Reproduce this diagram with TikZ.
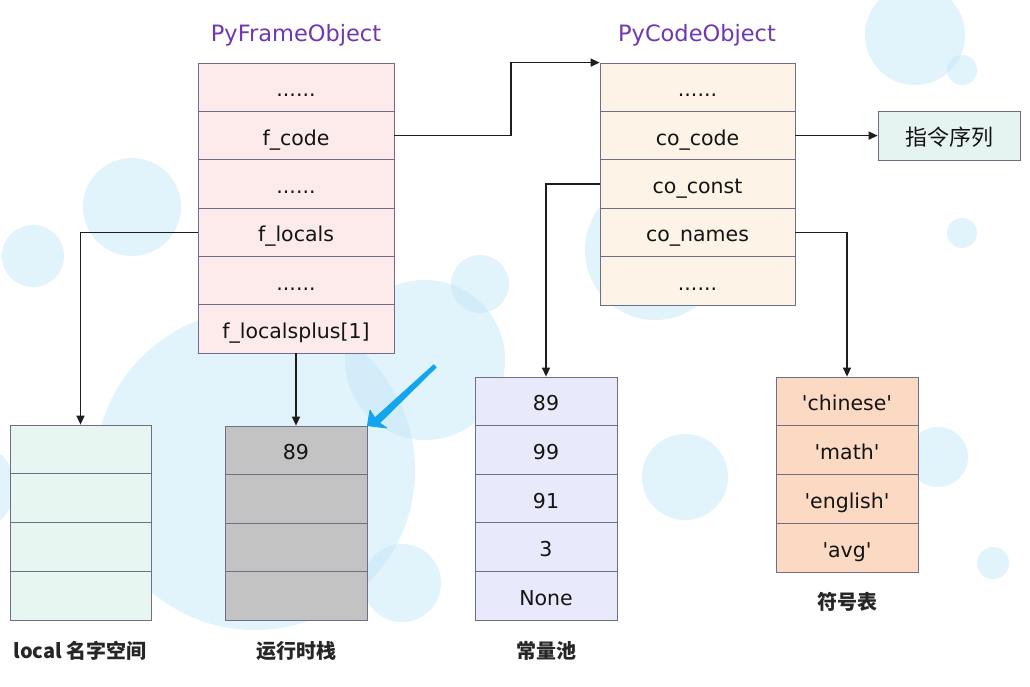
\documentclass[tikz,border=0pt]{standalone}
\usepackage{fontspec}
\setmainfont{DejaVu Sans}
\newfontfamily\cjk{Noto Sans CJK SC}
\usetikzlibrary{arrows.meta}
\definecolor{bordercol}{RGB}{110,110,135}
\definecolor{framefill}{RGB}{253,235,235}
\definecolor{codefill}{RGB}{253,243,230}
\definecolor{instrfill}{RGB}{230,244,241}
\definecolor{localfill}{RGB}{232,246,241}
\definecolor{stackfill}{RGB}{195,195,195}
\definecolor{constfill}{RGB}{232,234,251}
\definecolor{symfill}{RGB}{251,217,195}
\definecolor{titlecol}{RGB}{112,56,176}
\definecolor{bubble}{RGB}{196,233,248}
\definecolor{bluearrow}{RGB}{20,165,240}
\definecolor{linecol}{RGB}{30,30,30}
\tikzset{
  cell/.style={draw=bordercol, line width=0.8pt, inner sep=0pt, minimum height=48.4pt,
    font=\fontsize{20.5}{24}\selectfont, text=black!92, text height=19pt, text depth=0pt},
  frameobj/.style={cell, fill=framefill, minimum width=196pt},
  codeobj/.style={cell, fill=codefill, minimum width=195pt},
  localcell/.style={cell, fill=localfill, minimum width=141pt, minimum height=48.75pt},
  stackcell/.style={cell, fill=stackfill, minimum width=142pt, minimum height=48.5pt},
  constcell/.style={cell, fill=constfill, minimum width=142pt, minimum height=48.6pt},
  symcell/.style={cell, fill=symfill, minimum width=142pt, minimum height=48.75pt},
  titlelabel/.style={font=\fontsize{22.5}{26}\selectfont, text=titlecol},
  caption/.style={font=\cjk\bfseries\fontsize{20}{24}\selectfont, text=black!85},
  conn/.style={draw=linecol, line width=1.4pt, -{Triangle[length=9pt,width=8pt]}},
  bubbleshape/.style={fill=bubble, opacity=0.5, draw=none},
  pointer/.style={fill=bluearrow, draw=bluearrow, line width=0.8pt, line join=round},
}
\newcommand{\sq}[1]{\textquotesingle#1\textquotesingle}
\begin{document}
\begin{tikzpicture}[x=1pt,y=-1pt]
\useasboundingbox (0,0) rectangle (1030,686);
\fill[white] (0,0) rectangle (1030,686);
% background bubbles
\fill[bubbleshape] (255,470) circle (160);
\fill[bubbleshape] (425,360) circle (80);
\fill[bubbleshape] (132,207) circle (49);
\fill[bubbleshape] (33,256) circle (31);
\fill[bubbleshape] (480,284) circle (29);
\fill[bubbleshape] (402,583) circle (39);
\fill[bubbleshape] (-30,487) circle (45);
\fill[bubbleshape] (655,250) circle (70);
\fill[bubbleshape] (685,477) circle (43);
\fill[bubbleshape] (915,35) circle (50);
\fill[bubbleshape] (962,70) circle (15);
\fill[bubbleshape] (962,233) circle (15);
\fill[bubbleshape] (938,457) circle (30);
\fill[bubbleshape] (993,563) circle (16);
% titles
\node[titlelabel] (tframe) at (296,35) {PyFrameObject};
\node[titlelabel] (tcode) at (697,35) {PyCodeObject};
% frame object
\node[frameobj] (f1) at (296,87.2) {......};
\node[frameobj] (f2) at (296,135.5) {f\_code};
\node[frameobj] (f3) at (296,183.8) {......};
\node[frameobj] (f4) at (296,232.2) {f\_locals};
\node[frameobj] (f5) at (296,280.5) {......};
\node[frameobj] (f6) at (296,328.8) {f\_localsplus[1]};
% code object
\node[codeobj] (c1) at (697.5,87.2) {......};
\node[codeobj] (c2) at (697.5,135.6) {co\_code};
\node[codeobj] (c3) at (697.5,184) {co\_const};
\node[codeobj] (c4) at (697.5,232.4) {co\_names};
\node[codeobj] (c5) at (697.5,280.8) {......};
% instruction sequence
\node[cell, fill=instrfill, minimum width=142pt, minimum height=49pt, text height=20pt, font=\cjk\fontsize{22}{26}\selectfont] (instr) at (949,135.6) {指令序列};
% local namespace
\node[localcell] (l1) at (80.5,449.4) {};
\node[localcell] (l2) at (80.5,498.1) {};
\node[localcell] (l3) at (80.5,546.9) {};
\node[localcell] (l4) at (80.5,595.6) {};
% runtime stack
\node[stackcell] (t1) at (296,450.3) {89};
\node[stackcell] (t2) at (296,498.8) {};
\node[stackcell] (t3) at (296,547.3) {};
\node[stackcell] (t4) at (296,595.8) {};
% constants
\node[constcell] (k1) at (546,401.3) {89};
\node[constcell] (k2) at (546,449.9) {99};
\node[constcell] (k3) at (546,498.5) {91};
\node[constcell] (k4) at (546,547.1) {3};
\node[constcell] (k5) at (546,595.7) {None};
% symbols
\node[symcell] (s1) at (847,401.4) {\sq{chinese}};
\node[symcell] (s2) at (847,450.1) {\sq{math}};
\node[symcell] (s3) at (847,498.9) {\sq{english}};
\node[symcell] (s4) at (847,547.6) {\sq{avg}};
% captions
\node[caption] (cap1) at (80,651) {local 名字空间};
\node[caption] (cap2) at (296,651) {运行时栈};
\node[caption] (cap3) at (546,651) {常量池};
\node[caption] (cap4) at (847,602) {符号表};
% connectors
\coordinate (bend) at (511,0);
\draw[conn] (f2.east) -- (f2.east -| bend) |- (c1.north west);
\draw[conn] (c2.east) -- (instr.west);
\draw[conn] (c3.west) -| (k1.north);
\draw[conn] (c4.east) -| (s1.north);
\draw[conn] (f4.west) -| (l1.north);
\draw[conn] (f6.south) -- (t1.north);
% blue pointer arrow (tapered)
\filldraw[pointer] (433.8,364.7) -- (374.8,417.9) -- (370,410) -- (t1.north east) -- (387,428) -- (379.6,423.0) -- (436.2,367.3) -- cycle;
\end{tikzpicture}
\end{document}
